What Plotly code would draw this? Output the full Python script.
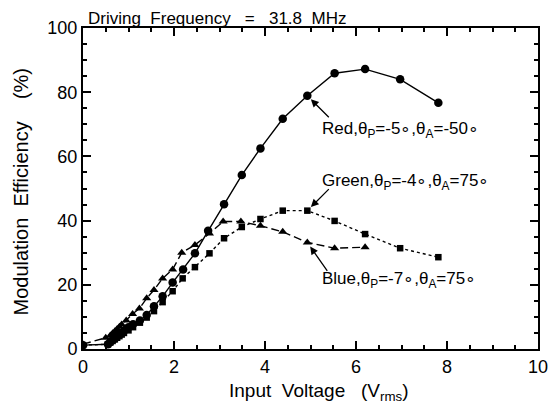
import plotly.graph_objects as go

# ---- data ----
red_x = [0, 0.55, 0.6, 0.65, 0.7, 0.75, 0.8, 0.85, 0.9, 0.95, 1.0, 1.1, 1.25, 1.4, 1.56, 1.75, 1.97,
         2.2, 2.46, 2.75, 3.1, 3.49, 3.9, 4.39, 4.93, 5.53, 6.2, 6.97, 7.81]
red_y = [1.2, 1.5, 2.2, 2.8, 3.3, 3.9, 4.5, 5.0, 5.6, 6.2, 6.8, 7.7, 8.9, 10.6, 13.3, 16.4, 20.7,
         24.8, 29.8, 36.8, 45.1, 54.2, 62.5, 71.7, 78.9, 85.9, 87.2, 84.0, 76.7]

green_x = [0, 0.55, 0.6, 0.65, 0.7, 0.75, 0.8, 0.85, 0.9, 1.0, 1.1, 1.25, 1.4, 1.56, 1.75, 1.97,
           2.19, 2.46, 2.78, 3.1, 3.49, 3.9, 4.39, 4.93, 5.53, 6.2, 6.97, 7.81]
green_y = [1.2, 1.5, 2.0, 2.5, 3.0, 3.5, 4.0, 4.5, 5.0, 5.8, 6.8, 8.2, 9.8, 11.8, 14.6, 18.0,
           22.0, 25.5, 29.8, 34.5, 38.0, 40.5, 43.1, 43.1, 39.9, 35.8, 31.4, 28.6]

blue_x = [0, 0.5, 0.6, 0.65, 0.7, 0.75, 0.8, 0.85, 0.95, 1.09, 1.24, 1.4, 1.56, 1.75, 1.97,
          2.17, 2.46, 2.78, 3.08, 3.47, 3.9, 4.39, 4.93, 5.53, 6.2]
blue_y = [1.5, 3.5, 4.2, 4.9, 5.5, 6.2, 6.9, 7.6, 8.9, 10.9, 12.6, 15.8, 18.4, 22.0, 24.8,
          30.0, 32.4, 36.0, 39.7, 39.7, 38.4, 36.5, 33.2, 31.4, 31.7]

labels = ["Red,θ<sub>P</sub>=-5∘,θ<sub>A</sub>=-50∘",
          "Green,θ<sub>P</sub>=-4∘,θ<sub>A</sub>=75∘",
          "Blue,θ<sub>P</sub>=-7∘,θ<sub>A</sub>=75∘"]
label_pos = [(5.21, 68.3), (5.21, 52.0), (5.21, 21.5)]
arrow_target = [(4.93, 78.9), (4.93, 43.1), (4.93, 33.2)]
arrow_tail_px = [(23, 23), (23, -23), (21, 30)]

x_ticks = [0, 2, 4, 6, 8, 10]
y_ticks = [0, 20, 40, 60, 80, 100]

FONT = "Liberation Sans, Arial, sans-serif"
NB = "\u00a0"

fig = go.Figure()
fig.add_trace(go.Scatter(x=red_x, y=red_y, mode="lines+markers",
                         line=dict(color="black", width=1.4, dash="solid"),
                         marker=dict(symbol="circle", size=8.5, color="black")))
fig.add_trace(go.Scatter(x=green_x, y=green_y, mode="lines+markers",
                         line=dict(color="black", width=1.4, dash="3px,3px"),
                         marker=dict(symbol="square", size=6.5, color="black")))
fig.add_trace(go.Scatter(x=blue_x, y=blue_y, mode="lines+markers",
                         line=dict(color="black", width=1.4, dash="8px,4px"),
                         marker=dict(symbol="triangle-up", size=8, color="black")))

for txt, (tx, ty) in zip(labels, label_pos):
    fig.add_annotation(x=tx, y=ty, xref="x", yref="y", text=txt, showarrow=False,
                       xanchor="left", yanchor="middle",
                       font=dict(family=FONT, size=17, color="black"))

for (hx, hy), (ax, ay) in zip(arrow_target, arrow_tail_px):
    fig.add_annotation(x=hx, y=hy, xref="x", yref="y", text="", showarrow=True,
                       ax=ax, ay=ay, arrowhead=2, arrowsize=1.2, arrowwidth=1.3,
                       arrowcolor="black", standoff=5)

# chart title (top-left)
fig.add_annotation(x=0, y=1, xref="paper", yref="paper", yanchor="bottom", xanchor="left",
                   xshift=3, yshift=-2, showarrow=False,
                   text=f"Driving{NB} Frequency{NB} {NB}={NB} {NB}31.8{NB} MHz",
                   font=dict(family=FONT, size=17, color="black"))
# axis titles
fig.add_annotation(x=0.5, y=0, xref="paper", yref="paper", yanchor="middle", xanchor="center",
                   xshift=8, yshift=-43, showarrow=False,
                   text=f"Input{NB} Voltage{NB} {NB}(V<sub>rms</sub>)",
                   font=dict(family=FONT, size=19, color="black"))
fig.add_annotation(x=0, y=0.5, xref="paper", yref="paper", yanchor="middle", xanchor="center",
                   xshift=-63, yshift=-3, showarrow=False, textangle=-90,
                   text=f"Modulation{NB} Efficiency{NB} {NB}{NB}(%)",
                   font=dict(family=FONT, size=20, color="black"))

axis_common = dict(showgrid=False, zeroline=False, showline=True, linecolor="black", linewidth=2,
                   mirror="ticks", ticks="inside", ticklen=8, tickwidth=1.5, tickcolor="black",
                   automargin=False, tickmode="array",
                   tickfont=dict(family=FONT, size=18, color="black"))

fig.update_xaxes(range=[0, 10], tickvals=x_ticks, ticktext=[str(v) for v in x_ticks],
                 minor=dict(dtick=0.5, tick0=0, ticks="inside", ticklen=4, tickwidth=1.5,
                            tickcolor="black"),
                 **axis_common)
fig.update_yaxes(range=[0, 100], tickvals=y_ticks, ticktext=[str(v) for v in y_ticks],
                 minor=dict(dtick=5, tick0=0, ticks="inside", ticklen=4, tickwidth=1.5,
                            tickcolor="black"),
                 **axis_common)

# the page adds an 8px body margin, so the figure is sized to the remaining area
fig.update_layout(width=550, height=402, showlegend=False,
                  margin=dict(l=75, r=20, t=20, b=61),
                  plot_bgcolor="white", paper_bgcolor="white",
                  font=dict(family=FONT, color="black"))

fig.write_html("out.html")
